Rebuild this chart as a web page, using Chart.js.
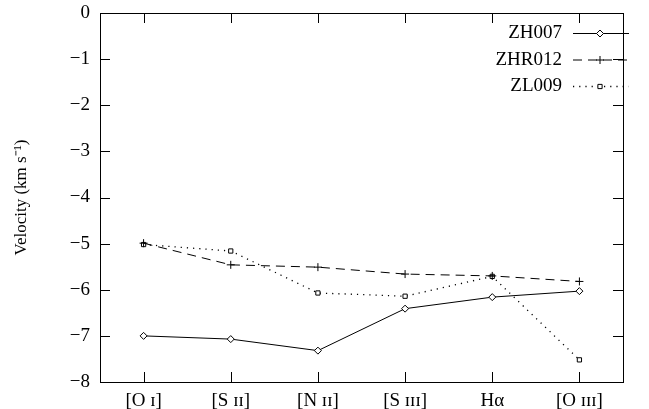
<!DOCTYPE html>
<html>
<head>
<meta charset="utf-8">
<script src="https://cdn.jsdelivr.net/npm/chart.js@4.4.0/dist/chart.umd.min.js"></script>
<style>
  html, body { margin: 0; padding: 0; background: #fff; }
  #wrap { width: 649px; height: 409px; }
</style>
</head>
<body>
<div id="wrap"><canvas id="chart" width="649" height="409"></canvas></div>
<script>
// datos
const lines = ['[O ɪ]', '[S ɪɪ]', '[N ɪɪ]', '[S ɪɪɪ]', 'Hα', '[O ɪɪɪ]'];
const zh007 = [-7.00, -7.07, -7.32, -6.41, -6.16, -6.03];
const zhr012 = [-4.99, -5.46, -5.51, -5.66, -5.70, -5.82];
const zl009 = [-5.02, -5.16, -6.07, -6.14, -5.71, -7.52];
const yTicks = [0, -1, -2, -3, -4, -5, -6, -7, -8];

const FONT = "'Liberation Serif', 'Times New Roman', serif";

const series = [
  { label: 'ZH007', data: zh007, dash: [], style: 'rectRot', radius: 3.5 },
  { label: 'ZHR012', data: zhr012, dash: [9, 6], style: 'cross', radius: 4 },
  { label: 'ZL009', data: zl009, dash: [1.2, 5], style: 'rect', radius: 3 },
];

// caja con ticks hacia dentro y leyenda propia
const frame = {
  id: 'frame',
  afterDraw(chart) {
    const { ctx, chartArea: a, scales } = chart;
    ctx.save();
    ctx.strokeStyle = '#000';
    ctx.lineWidth = 1;
    ctx.strokeRect(a.left + 0.5, a.top + 0.5, a.right - a.left, a.bottom - a.top);
    ctx.beginPath();
    yTicks.forEach(v => {
      const y = Math.round(scales.y.getPixelForValue(v)) + 0.5;
      ctx.moveTo(a.left, y); ctx.lineTo(a.left + 10, y);
      ctx.moveTo(a.right, y); ctx.lineTo(a.right - 10, y);
    });
    lines.forEach((_, i) => {
      const x = Math.round(scales.x.getPixelForValue(i)) + 0.5;
      ctx.moveTo(x, a.bottom); ctx.lineTo(x, a.bottom - 10);
      ctx.moveTo(x, a.top); ctx.lineTo(x, a.top + 10);
    });
    ctx.stroke();

    // leyenda
    ctx.font = '19px ' + FONT;
    ctx.textAlign = 'right';
    ctx.textBaseline = 'middle';
    series.forEach((s, i) => {
      const y = 33.5 + i * 26.5;
      ctx.fillStyle = '#000';
      ctx.fillText(s.label, 562, y);
      ctx.beginPath();
      ctx.setLineDash(s.dash);
      ctx.lineWidth = s.dash.length && s.dash[0] < 2 ? 1.3 : 1;
      ctx.moveTo(573, y); ctx.lineTo(629, y);
      ctx.stroke();
      ctx.setLineDash([]);
      ctx.lineWidth = 1;
      ctx.fillStyle = '#fff';
      Chart.helpers.drawPoint(ctx, {
        pointStyle: s.style, radius: s.radius, borderWidth: 1
      }, 600, y);
    });
    ctx.restore();
  }
};

new Chart(document.getElementById('chart'), {
  type: 'line',
  data: {
    labels: lines,
    datasets: series.map(s => ({
      label: s.label,
      data: s.data,
      borderColor: '#000',
      borderWidth: s.dash.length && s.dash[0] < 2 ? 1.3 : 1,
      borderDash: s.dash,
      pointStyle: s.style,
      pointRadius: s.radius,
      pointBackgroundColor: '#fff',
      pointBorderColor: '#000',
      pointBorderWidth: 1,
      tension: 0,
      fill: false,
    })),
  },
  options: {
    responsive: false,
    animation: false,
    layout: { padding: { top: 13, right: 26, left: 0, bottom: 0 } },
    plugins: {
      legend: { display: false },
      tooltip: { enabled: false },
    },
    scales: {
      x: {
        offset: true,
        grid: { display: false, drawTicks: false },
        border: { display: false },
        ticks: { color: '#000', font: { family: FONT, size: 19 }, padding: 8, maxRotation: 0 },
        afterFit: s => { s.height = 27; s.paddingLeft = 0; s.paddingRight = 0; },
      },
      y: {
        min: -8,
        max: 0,
        afterBuildTicks: s => { s.ticks = yTicks.map(v => ({ value: v })); },
        grid: { display: false, drawTicks: false },
        border: { display: false },
        ticks: {
          color: '#000',
          font: { family: FONT, size: 19 },
          padding: 10,
          callback: v => (v < 0 ? '\u2212' + Math.abs(v) : String(v)),
        },
        title: {
          display: true,
          text: 'Velocity (km s\u207B\u00B9)',
          color: '#000',
          font: { family: FONT, size: 17 },
          padding: { top: 11, bottom: 20 },
        },
        afterFit: s => { s.width = 100; s.paddingTop = 0; s.paddingBottom = 0; },
      },
    },
  },
  plugins: [frame],
});
</script>
</body>
</html>
